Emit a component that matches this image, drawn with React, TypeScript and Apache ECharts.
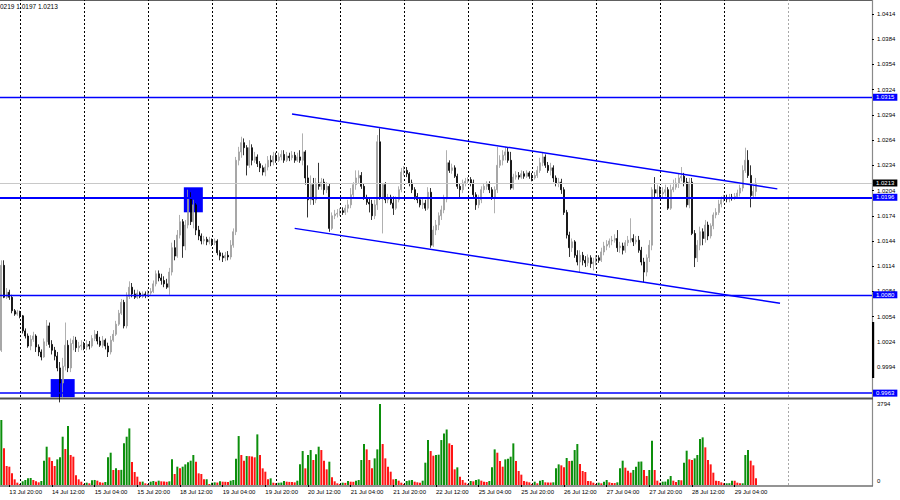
import { useEffect, useRef } from "react";
import * as echarts from "echarts";

// ---------- data ----------
const DAYS = ["13 Jul", "14 Jul", "15 Jul", "18 Jul", "19 Jul", "20 Jul", "21 Jul", "22 Jul", "25 Jul", "26 Jul", "27 Jul", "28 Jul", "29 Jul", "1 Aug", "2 Aug"];
const FIRST_HOUR = 17; // first visible bar: 13 Jul 17:00
const SLOT_COUNT = 327; // bars that fit the window incl. right shift

const TICK_LABELS = ["13 Jul 20:00", "14 Jul 12:00", "15 Jul 04:00", "15 Jul 20:00", "18 Jul 12:00", "19 Jul 04:00", "19 Jul 20:00", "20 Jul 12:00", "21 Jul 04:00", "21 Jul 20:00", "22 Jul 12:00", "25 Jul 04:00", "25 Jul 20:00", "26 Jul 12:00", "27 Jul 04:00", "27 Jul 20:00", "28 Jul 12:00", "29 Jul 04:00"];

const PRICE_MIN = 0.99584;
const PRICE_MAX = 1.04307;
const PRICE_TICKS = [0.9994, 1.0024, 1.0054, 1.0084, 1.0114, 1.0144, 1.0174, 1.0204, 1.0234, 1.0264, 1.0294, 1.0324, 1.0354, 1.0384, 1.0414];
const VOLUME_MAX = 3794;
const INFO_TEXT = "0219 1.0197 1.0213";

// [open, close, low, high]
const CANDLES: number[][] = [
  [1.0014,1.0115,1.0012,1.0121],[1.0115,1.0077,1.0076,1.0121],[1.0077,1.0083,1.0075,1.0088],[1.0083,1.0077,1.0074,1.0086],[1.0077,1.0061,1.0058,1.0080],
  [1.0061,1.0057,1.0055,1.0063],[1.0057,1.0059,1.0055,1.0062],[1.0059,1.0055,1.0052,1.0061],[1.0055,1.0037,1.0034,1.0056],[1.0037,1.0031,1.0028,1.0040],
  [1.0031,1.0019,1.0017,1.0034],[1.0019,1.0027,1.0014,1.0032],[1.0027,1.0031,1.0024,1.0036],[1.0031,1.0018,1.0012,1.0033],[1.0018,1.0012,1.0007,1.0021],
  [1.0012,1.0006,1.0002,1.0015],[1.0006,1.0024,1.0005,1.0028],[1.0024,1.0043,1.0019,1.0050],[1.0043,1.0021,1.0017,1.0047],[1.0021,1.0014,1.0009,1.0026],
  [1.0014,1.0007,1.0002,1.0018],[1.0007,0.9993,0.9989,1.0012],[0.9993,0.9975,0.9952,1.0000],[0.9975,0.9995,0.9957,1.0005],[0.9995,1.0020,0.9990,1.0047],
  [1.0020,0.9993,0.9988,1.0026],[0.9993,1.0022,0.9988,1.0028],[1.0022,1.0026,1.0014,1.0031],[1.0026,1.0017,1.0012,1.0030],[1.0017,1.0019,1.0012,1.0024],
  [1.0019,1.0020,1.0014,1.0026],[1.0020,1.0018,1.0014,1.0024],[1.0018,1.0021,1.0014,1.0026],[1.0021,1.0019,1.0015,1.0025],[1.0019,1.0028,1.0017,1.0032],
  [1.0028,1.0033,1.0025,1.0038],[1.0033,1.0025,1.0021,1.0037],[1.0025,1.0020,1.0018,1.0030],[1.0020,1.0026,1.0017,1.0031],[1.0026,1.0019,1.0015,1.0028],
  [1.0019,1.0012,1.0006,1.0023],[1.0012,1.0026,1.0009,1.0031],[1.0026,1.0033,1.0024,1.0038],[1.0033,1.0045,1.0031,1.0049],[1.0045,1.0058,1.0043,1.0062],
  [1.0058,1.0071,1.0056,1.0075],[1.0071,1.0043,1.0040,1.0074],[1.0043,1.0078,1.0040,1.0083],[1.0078,1.0089,1.0075,1.0096],[1.0089,1.0081,1.0077,1.0094],
  [1.0081,1.0077,1.0075,1.0086],[1.0077,1.0082,1.0075,1.0086],[1.0082,1.0078,1.0076,1.0084],[1.0078,1.0081,1.0076,1.0084],[1.0081,1.0080,1.0076,1.0084],
  [1.0080,1.0082,1.0077,1.0086],[1.0082,1.0084,1.0080,1.0088],[1.0084,1.0093,1.0082,1.0097],[1.0093,1.0105,1.0090,1.0109],[1.0105,1.0100,1.0096,1.0109],
  [1.0100,1.0097,1.0092,1.0105],[1.0097,1.0093,1.0089,1.0102],[1.0093,1.0089,1.0087,1.0099],[1.0089,1.0107,1.0080,1.0112],[1.0107,1.0136,1.0103,1.0142],
  [1.0136,1.0126,1.0121,1.0145],[1.0126,1.0151,1.0124,1.0157],[1.0151,1.0167,1.0147,1.0175],[1.0167,1.0138,1.0124,1.0170],[1.0138,1.0163,1.0133,1.0169],
  [1.0163,1.0195,1.0159,1.0205],[1.0195,1.0167,1.0163,1.0202],[1.0167,1.0187,1.0159,1.0193],[1.0187,1.0157,1.0151,1.0189],[1.0157,1.0150,1.0145,1.0162],
  [1.0150,1.0144,1.0140,1.0153],[1.0144,1.0146,1.0140,1.0150],[1.0146,1.0143,1.0139,1.0149],[1.0143,1.0145,1.0140,1.0149],[1.0145,1.0142,1.0138,1.0147],
  [1.0142,1.0144,1.0139,1.0147],[1.0144,1.0130,1.0127,1.0146],[1.0130,1.0126,1.0121,1.0133],[1.0126,1.0124,1.0119,1.0130],[1.0124,1.0127,1.0120,1.0131],
  [1.0127,1.0125,1.0121,1.0132],[1.0125,1.0139,1.0122,1.0145],[1.0139,1.0155,1.0136,1.0159],[1.0155,1.0240,1.0151,1.0244],[1.0240,1.0250,1.0234,1.0256],
  [1.0250,1.0261,1.0243,1.0268],[1.0261,1.0255,1.0246,1.0266],[1.0255,1.0234,1.0222,1.0258],[1.0234,1.0255,1.0231,1.0264],[1.0255,1.0240,1.0234,1.0259],
  [1.0240,1.0244,1.0237,1.0250],[1.0244,1.0236,1.0232,1.0247],[1.0236,1.0231,1.0226,1.0239],[1.0231,1.0226,1.0222,1.0234],[1.0226,1.0232,1.0221,1.0236],
  [1.0232,1.0240,1.0228,1.0245],[1.0240,1.0238,1.0233,1.0246],[1.0238,1.0245,1.0234,1.0250],[1.0245,1.0240,1.0237,1.0249],[1.0240,1.0244,1.0238,1.0249],
  [1.0244,1.0247,1.0240,1.0252],[1.0247,1.0240,1.0237,1.0252],[1.0240,1.0245,1.0238,1.0250],[1.0245,1.0243,1.0239,1.0249],[1.0243,1.0246,1.0240,1.0251],
  [1.0246,1.0240,1.0237,1.0250],[1.0240,1.0244,1.0238,1.0249],[1.0244,1.0240,1.0237,1.0252],[1.0240,1.0250,1.0234,1.0272],[1.0250,1.0219,1.0211,1.0252],
  [1.0219,1.0193,1.0172,1.0234],[1.0193,1.0211,1.0187,1.0222],[1.0211,1.0193,1.0187,1.0219],[1.0193,1.0213,1.0189,1.0219],[1.0213,1.0209,1.0205,1.0237],
  [1.0209,1.0214,1.0205,1.0219],[1.0214,1.0205,1.0199,1.0218],[1.0205,1.0209,1.0201,1.0214],[1.0209,1.0159,1.0155,1.0212],[1.0159,1.0174,1.0157,1.0178],
  [1.0174,1.0176,1.0170,1.0181],[1.0176,1.0177,1.0172,1.0182],[1.0177,1.0180,1.0174,1.0183],[1.0180,1.0178,1.0175,1.0184],[1.0178,1.0183,1.0175,1.0187],
  [1.0183,1.0187,1.0178,1.0193],[1.0187,1.0199,1.0183,1.0207],[1.0199,1.0211,1.0195,1.0214],[1.0211,1.0219,1.0205,1.0228],[1.0219,1.0222,1.0213,1.0228],
  [1.0222,1.0209,1.0206,1.0226],[1.0209,1.0195,1.0193,1.0213],[1.0195,1.0190,1.0187,1.0199],[1.0190,1.0188,1.0178,1.0195],[1.0188,1.0174,1.0169,1.0193],
  [1.0174,1.0187,1.0170,1.0193],[1.0187,1.0262,1.0181,1.0270],[1.0262,1.0195,1.0193,1.0278],[1.0195,1.0211,1.0153,1.0213],[1.0211,1.0193,1.0189,1.0214],
  [1.0193,1.0196,1.0189,1.0200],[1.0196,1.0189,1.0187,1.0199],[1.0189,1.0183,1.0175,1.0197],[1.0183,1.0193,1.0181,1.0197],[1.0193,1.0205,1.0190,1.0209],
  [1.0205,1.0226,1.0202,1.0231],[1.0226,1.0228,1.0222,1.0233],[1.0228,1.0224,1.0220,1.0232],[1.0224,1.0213,1.0209,1.0226],[1.0213,1.0205,1.0201,1.0217],
  [1.0205,1.0197,1.0193,1.0208],[1.0197,1.0193,1.0189,1.0201],[1.0193,1.0187,1.0184,1.0196],[1.0187,1.0189,1.0182,1.0194],[1.0189,1.0183,1.0180,1.0193],
  [1.0183,1.0202,1.0181,1.0208],[1.0202,1.0139,1.0136,1.0207],[1.0139,1.0157,1.0137,1.0162],[1.0157,1.0163,1.0151,1.0169],[1.0163,1.0174,1.0157,1.0178],
  [1.0174,1.0181,1.0169,1.0186],[1.0181,1.0194,1.0177,1.0199],[1.0194,1.0237,1.0190,1.0252],[1.0237,1.0228,1.0225,1.0240],[1.0228,1.0231,1.0224,1.0236],
  [1.0231,1.0221,1.0219,1.0234],[1.0221,1.0209,1.0206,1.0224],[1.0209,1.0205,1.0196,1.0213],[1.0205,1.0213,1.0201,1.0217],[1.0213,1.0215,1.0209,1.0219],
  [1.0215,1.0217,1.0212,1.0220],[1.0217,1.0213,1.0209,1.0220],[1.0213,1.0199,1.0195,1.0217],[1.0199,1.0187,1.0181,1.0202],[1.0187,1.0193,1.0183,1.0199],
  [1.0193,1.0205,1.0189,1.0209],[1.0205,1.0209,1.0201,1.0213],[1.0209,1.0212,1.0205,1.0215],[1.0212,1.0205,1.0201,1.0215],[1.0205,1.0196,1.0193,1.0208],
  [1.0196,1.0205,1.0177,1.0209],[1.0205,1.0234,1.0201,1.0256],[1.0234,1.0240,1.0231,1.0246],[1.0240,1.0246,1.0234,1.0252],[1.0246,1.0250,1.0240,1.0256],
  [1.0250,1.0240,1.0237,1.0255],[1.0240,1.0207,1.0205,1.0250],[1.0207,1.0220,1.0205,1.0224],[1.0220,1.0222,1.0217,1.0227],[1.0222,1.0220,1.0217,1.0226],
  [1.0220,1.0224,1.0218,1.0228],[1.0224,1.0221,1.0218,1.0227],[1.0221,1.0225,1.0219,1.0228],[1.0225,1.0221,1.0218,1.0227],[1.0221,1.0219,1.0215,1.0225],
  [1.0219,1.0222,1.0217,1.0226],[1.0222,1.0228,1.0219,1.0233],[1.0228,1.0237,1.0225,1.0243],[1.0237,1.0244,1.0233,1.0249],[1.0244,1.0234,1.0231,1.0247],
  [1.0234,1.0228,1.0225,1.0238],[1.0228,1.0231,1.0222,1.0237],[1.0231,1.0219,1.0214,1.0234],[1.0219,1.0213,1.0209,1.0222],[1.0213,1.0214,1.0208,1.0219],
  [1.0214,1.0205,1.0200,1.0218],[1.0205,1.0178,1.0175,1.0208],[1.0178,1.0151,1.0147,1.0181],[1.0151,1.0136,1.0125,1.0155],[1.0136,1.0143,1.0131,1.0147],
  [1.0143,1.0127,1.0124,1.0145],[1.0127,1.0119,1.0115,1.0133],[1.0119,1.0127,1.0107,1.0133],[1.0127,1.0121,1.0115,1.0131],[1.0121,1.0118,1.0113,1.0126],
  [1.0118,1.0124,1.0114,1.0128],[1.0124,1.0117,1.0112,1.0127],[1.0117,1.0119,1.0109,1.0124],[1.0119,1.0124,1.0115,1.0127],[1.0124,1.0121,1.0118,1.0127],
  [1.0121,1.0131,1.0119,1.0136],[1.0131,1.0138,1.0127,1.0143],[1.0138,1.0140,1.0133,1.0145],[1.0140,1.0144,1.0136,1.0147],[1.0144,1.0145,1.0139,1.0150],
  [1.0145,1.0147,1.0142,1.0152],[1.0147,1.0136,1.0131,1.0157],[1.0136,1.0138,1.0130,1.0143],[1.0138,1.0133,1.0128,1.0142],[1.0133,1.0142,1.0130,1.0145],
  [1.0142,1.0145,1.0138,1.0150],[1.0145,1.0147,1.0142,1.0171],[1.0147,1.0143,1.0138,1.0152],[1.0143,1.0145,1.0140,1.0150],[1.0145,1.0133,1.0130,1.0150],
  [1.0133,1.0119,1.0115,1.0137],[1.0119,1.0107,1.0095,1.0124],[1.0107,1.0124,1.0102,1.0128],[1.0124,1.0139,1.0119,1.0145],[1.0139,1.0205,1.0133,1.0208],
  [1.0205,1.0201,1.0196,1.0220],[1.0201,1.0205,1.0196,1.0211],[1.0205,1.0200,1.0196,1.0209],[1.0200,1.0202,1.0196,1.0208],[1.0202,1.0205,1.0197,1.0211],
  [1.0205,1.0183,1.0181,1.0208],[1.0183,1.0205,1.0181,1.0211],[1.0205,1.0208,1.0202,1.0217],[1.0208,1.0213,1.0205,1.0219],[1.0213,1.0219,1.0207,1.0224],
  [1.0219,1.0221,1.0215,1.0232],[1.0221,1.0214,1.0209,1.0225],[1.0214,1.0187,1.0184,1.0219],[1.0187,1.0214,1.0183,1.0219],[1.0214,1.0153,1.0151,1.0219],
  [1.0153,1.0124,1.0113,1.0157],[1.0124,1.0139,1.0119,1.0145],[1.0139,1.0155,1.0133,1.0161],[1.0155,1.0147,1.0139,1.0159],[1.0147,1.0163,1.0142,1.0169],
  [1.0163,1.0150,1.0145,1.0167],[1.0150,1.0162,1.0147,1.0165],[1.0162,1.0175,1.0158,1.0178],[1.0175,1.0178,1.0171,1.0183],[1.0178,1.0188,1.0175,1.0193],
  [1.0188,1.0193,1.0184,1.0197],[1.0193,1.0195,1.0190,1.0199],[1.0195,1.0194,1.0190,1.0199],[1.0194,1.0196,1.0190,1.0200],[1.0196,1.0195,1.0192,1.0200],
  [1.0195,1.0197,1.0193,1.0201],[1.0197,1.0201,1.0194,1.0205],[1.0201,1.0207,1.0197,1.0211],[1.0207,1.0228,1.0203,1.0234],[1.0228,1.0240,1.0225,1.0255],
  [1.0240,1.0222,1.0219,1.0252],[1.0222,1.0198,1.0184,1.0234],[1.0198,1.0203,1.0195,1.0210],[1.0203,1.0213,1.0197,1.0219],
];

const VOLUMES = [
  3042, 1716, 889, 858, 546, 265, 109, 50, 172, 234,
  312, 328, 234, 172, 125, 187, 1139, 1794, 1295, 1123,
  889, 1201, 1295, 2262, 1685, 2761, 1404, 1326, 452, 265,
  156, 47, 109, 78, 225, 236, 203, 125, 109, 140,
  1295, 1513, 702, 780, 700, 710, 1950, 2262, 2652, 1076,
  608, 390, 156, 160, 78, 47, 156, 187, 156, 203,
  172, 160, 150, 172, 1201, 515, 858, 780, 858, 967,
  1061, 1139, 1404, 1092, 546, 515, 265, 270, 47, 109,
  125, 115, 172, 156, 150, 145, 203, 234, 1232, 2293,
  1404, 1139, 1357, 1350, 1340, 1295, 2371, 1404, 780, 624,
  265, 312, 109, 78, 105, 115, 187, 156, 145, 140,
  125, 203, 967, 1591, 780, 1404, 1638, 1170, 1435, 1794,
  1638, 1139, 733, 1092, 359, 172, 78, 47, 109, 100,
  187, 156, 150, 203, 234, 1170, 1919, 1669, 1170, 780,
  1248, 1669, 3794, 1919, 1248, 858, 624, 265, 281, 203,
  109, 47, 187, 218, 234, 156, 125, 109, 203, 1045,
  2106, 1591, 1373, 1404, 1420, 2106, 2418, 2600, 1950, 1872,
  733, 827, 390, 234, 109, 47, 187, 172, 234, 265,
  203, 156, 140, 187, 827, 1669, 1513, 1123, 858, 1201,
  1232, 1326, 1950, 1123, 655, 484, 187, 156, 125, 47,
  156, 78, 203, 234, 125, 120, 115, 125, 780, 967,
  920, 827, 1264, 1123, 1140, 1638, 1919, 983, 655, 608,
  187, 180, 109, 47, 109, 78, 156, 234, 125, 94,
  90, 125, 780, 1139, 811, 670, 577, 702, 858, 1092,
  1100, 702, 421, 702, 2075, 702, 203, 109, 156, 160,
  265, 421, 203, 140, 234, 220, 1045, 1607, 1201, 1170,
  1248, 1404, 2153, 2231, 1763, 1170, 967, 577, 203, 187,
  125, 78, 80, 85, 203, 200, 109, 78, 80, 1404,
  1638, 1139, 920, 312,
];

const LEVELS = [1.0315, 1.0196, 1.008, 0.9963];
const FIBO_LEVELS: [number, string][] = [[1.0196, "261.8"], [0.9963, "323.6"]];
const BID = 1.0213;
const UPPER_CHANNEL = [[109, 1.0295], [291, 1.0206]];
const LOWER_CHANNEL = [[110, 1.0159], [292, 1.007]];
const MARKERS = [[72, 1.0193], [23, 0.9969]];

// ---------- helpers ----------
function buildCategories(): string[] {
  const out: string[] = [];
  for (const d of DAYS) {
    for (let h = 0; h < 24; h++) out.push(`${d} ${String(h).padStart(2, "0")}:00`);
  }
  return out.slice(FIRST_HOUR, FIRST_HOUR + SLOT_COUNT);
}

const FONT = "'Liberation Sans', Arial, sans-serif";
const BLUE = "#0000ff";
const GREEN = "#0c8f0c";
const RED = "#ff1414";

export default function App() {
  const ref = useRef<HTMLDivElement>(null);

  useEffect(() => {
    if (!ref.current) return;
    const chart = echarts.init(ref.current, null, { renderer: "svg" });
    const categories = buildCategories();
    const showLabel = (_i: number, v: string) => TICK_LABELS.includes(v);

    const dayStarts = categories
      .map((c, i) => (c.endsWith(" 00:00") ? i : -1))
      .filter((i) => i >= 0 && i < CANDLES.length + 24);
    const sepData = dayStarts.map((i) => ({
      xAxis: i,
      lineStyle: { color: i < CANDLES.length ? "#000000" : "#a8a8a8", type: [2, 2], width: 1 },
      label: { show: false },
    }));

    const levelWidth: Record<string, number> = { "1.0315": 1.3, "1.0196": 2, "1.0080": 1.3, "0.9963": 1.6 };
    const boxLabel = (text: string, bg: string) => ({
      show: true,
      position: "end",
      formatter: text,
      color: "#ffffff",
      backgroundColor: bg,
      fontSize: 6,
      fontFamily: FONT,
      lineHeight: 6,
      padding: [1, 3, 0, 3],
      distance: 1,
    });

    const levelData = LEVELS.map((v) => ({
      yAxis: v,
      lineStyle: { color: BLUE, width: levelWidth[v.toFixed(4)] ?? 1.3, type: "solid", opacity: 1 },
      label: boxLabel(v.toFixed(4), BLUE),
    }));
    const fiboData = FIBO_LEVELS.map(([v, t]) => ({
      yAxis: v,
      lineStyle: { opacity: 0 },
      label: { show: true, position: "insideEndTop", formatter: t, color: "#4646ff", fontSize: 6, fontFamily: FONT, distance: 1 },
    }));
    const bidData = {
      yAxis: BID,
      lineStyle: { color: "#c8c8c8", width: 1, type: "solid", opacity: 1 },
      label: boxLabel(BID.toFixed(4), "#000000"),
    };
    const channel = (pts: number[][]) => [
      { coord: pts[0], lineStyle: { color: BLUE, width: 1.5, type: "solid", opacity: 1 }, label: { show: false } },
      { coord: pts[1] },
    ];

    const markerSizes = [[19, 25], [24, 18]];

    const option: any = {
      animation: false,
      backgroundColor: "#ffffff",
      textStyle: { fontFamily: FONT },
      grid: [
        { left: 0, top: 0, width: 872, height: 397 },
        { left: 0, top: 404, width: 872, height: 81 },
      ],
      xAxis: [
        {
          type: "category", gridIndex: 0, data: categories, boundaryGap: true,
          axisLine: { show: false }, axisTick: { show: false }, axisLabel: { show: false }, splitLine: { show: false },
        },
        {
          type: "category", gridIndex: 1, data: categories, boundaryGap: true,
          axisLine: { show: false },
          axisTick: { show: true, alignWithLabel: true, interval: showLabel, length: 2, lineStyle: { color: "#000" } },
          axisLabel: { interval: showLabel, align: "left", fontSize: 6, color: "#000", margin: 4, fontFamily: FONT },
          splitLine: { show: false },
        },
      ],
      yAxis: [
        {
          type: "value", gridIndex: 0, position: "right", min: PRICE_MIN, max: PRICE_MAX,
          splitLine: { show: false }, axisLine: { show: false },
          axisTick: { show: true, customValues: PRICE_TICKS, length: 2, lineStyle: { color: "#000" } },
          axisLabel: { customValues: PRICE_TICKS, formatter: (v: number) => v.toFixed(4), fontSize: 6, color: "#000", margin: 5, fontFamily: FONT },
        },
        {
          type: "value", gridIndex: 1, position: "right", min: 0, max: VOLUME_MAX,
          splitLine: { show: false }, axisLine: { show: false }, axisTick: { show: false },
          axisLabel: {
            customValues: [0, VOLUME_MAX],
            formatter: (v: number) => (v === 0 ? "{z|0}" : String(v)),
            rich: { z: { padding: [0, 0, 8, 0], fontSize: 6, color: "#000", fontFamily: FONT } },
            fontSize: 6, color: "#000", margin: 5, fontFamily: FONT,
          },
        },
      ],
      series: [
        {
          type: "scatter", xAxisIndex: 0, yAxisIndex: 0, z: 1, silent: true,
          symbol: "rect",
          data: MARKERS.map((m, i) => ({ value: m, symbolSize: markerSizes[i] })),
          itemStyle: { color: "#0000ff", opacity: 1 },
        },
        {
          type: "candlestick", xAxisIndex: 0, yAxisIndex: 0, z: 2,
          data: CANDLES, barWidth: 1.6,
          itemStyle: { color: "#a9a9a9", color0: "#000000", borderColor: "#9c9c9c", borderColor0: "#000000", borderWidth: 0.8 },
          markLine: {
            silent: true, symbol: ["none", "none"], animation: false, precision: 5,
            label: { show: false },
            lineStyle: { color: BLUE, opacity: 1 },
            data: [
              ...sepData,
              bidData,
              ...levelData,
              ...fiboData,
              channel(UPPER_CHANNEL),
              channel(LOWER_CHANNEL),
            ],
          },
        },
        {
          type: "bar", xAxisIndex: 1, yAxisIndex: 1, barWidth: 2,
          data: VOLUMES.map((v, i) => ({ value: v, itemStyle: { color: i === 0 || v > VOLUMES[i - 1] ? GREEN : RED } })),
          markLine: { silent: true, symbol: ["none", "none"], animation: false, label: { show: false }, data: sepData },
        },
      ],
      graphic: [
        { type: "text", left: 0, top: 3, style: { text: INFO_TEXT, fontSize: 6.5, fill: "#000", fontFamily: FONT } },
        { type: "line", shape: { x1: 0, y1: 0.5, x2: 873, y2: 0.5 }, style: { stroke: "#606060", lineWidth: 1 } },
        { type: "line", shape: { x1: 872.5, y1: 0, x2: 872.5, y2: 486 }, style: { stroke: "#8a8a8a", lineWidth: 1.2 } },
        { type: "line", shape: { x1: 0, y1: 398.5, x2: 873, y2: 398.5 }, style: { stroke: "#505050", lineWidth: 2 } },
        { type: "line", shape: { x1: 0, y1: 486, x2: 873, y2: 486 }, style: { stroke: "#707070", lineWidth: 1.5 } },
        { type: "rect", shape: { x: 872, y: 322, width: 2.2, height: 56 }, style: { fill: "#000" } },
      ],
    };

    chart.setOption(option);
    return () => chart.dispose();
  }, []);

  return (
    <div
      ref={ref}
      style={{ position: "absolute", left: 0, top: 0, width: 900, height: 500, background: "#fff" }}
    />
  );
}
